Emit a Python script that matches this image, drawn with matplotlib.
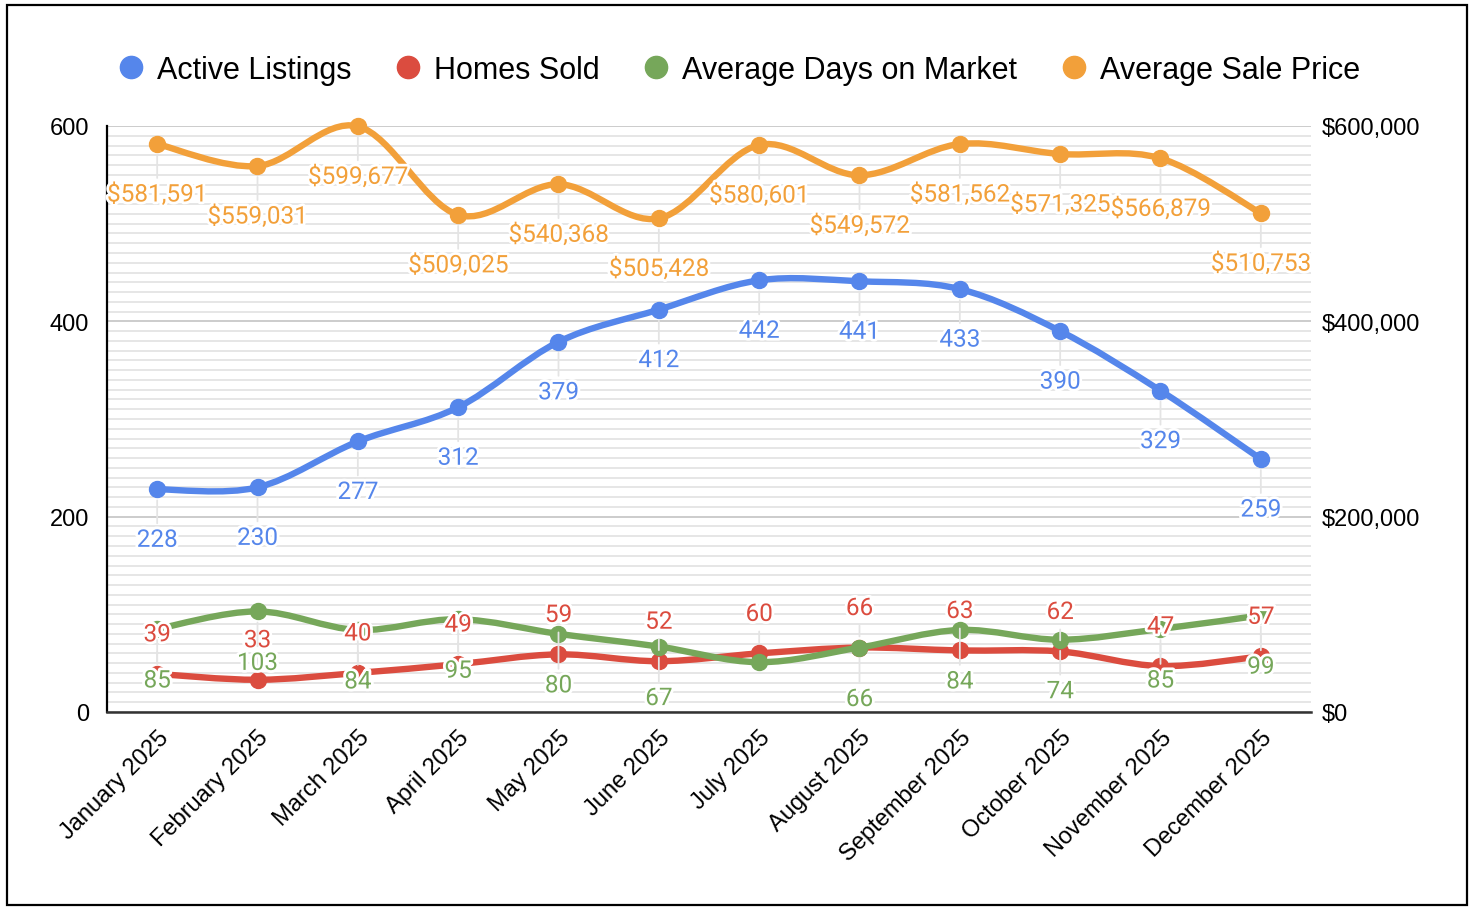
import numpy as np
import matplotlib
matplotlib.use("Agg")
import matplotlib.pyplot as plt
from matplotlib.path import Path
from matplotlib.patches import PathPatch, Rectangle
from matplotlib.ticker import MultipleLocator, FuncFormatter
from matplotlib.lines import Line2D
import matplotlib.patheffects as pe

months = ["January 2025", "February 2025", "March 2025", "April 2025", "May 2025",
          "June 2025", "July 2025", "August 2025", "September 2025", "October 2025",
          "November 2025", "December 2025"]
active_listings = [228, 230, 277, 312, 379, 412, 442, 441, 433, 390, 329, 259]
homes_sold = [39, 33, 40, 49, 59, 52, 60, 66, 63, 62, 47, 57]
days_on_market = [85, 103, 84, 95, 80, 67, 51, 66, 84, 74, 85, 99]
sale_price = [581591, 559031, 599677, 509025, 540368, 505428, 580601, 549572,
              581562, 571325, 566879, 510753]

BLUE = "#5586eb"
RED = "#db4c3f"
GREEN = "#76a75a"
ORANGE = "#f2a03a"

AXFONT = "Liberation Sans"
LBLFONT = "Roboto"


def smooth_path(xs, ys):
    # catmull-rom -> cubic bezier segments
    pts = np.column_stack([xs, ys]).astype(float)
    n = len(pts)
    verts = [pts[0]]
    codes = [Path.MOVETO]
    for i in range(n - 1):
        p0 = pts[max(i - 1, 0)]
        p1 = pts[i]
        p2 = pts[i + 1]
        p3 = pts[min(i + 2, n - 1)]
        c1 = p1 + (p2 - p0) / 6.0
        c2 = p2 - (p3 - p1) / 6.0
        verts += [c1, c2, p2]
        codes += [Path.CURVE4] * 3
    return Path(verts, codes)


def draw_series(ax, vals, color, dy_px, z, skip=()):
    x = np.arange(len(vals))
    ax.add_patch(PathPatch(smooth_path(x, vals), fill=False, edgecolor=color,
                           lw=4.6, capstyle="round", joinstyle="round", zorder=z,
                           clip_on=False))
    ax.plot(x, vals, "o", color=color, ms=11.5, zorder=z + 0.1, clip_on=False)
    for i, v in enumerate(vals):
        if i in skip:
            continue
        if v >= 1000:
            txt = "${:,}".format(v)
        else:
            txt = str(v)
        ax.annotate(txt, (i, v), xytext=(0, dy_px * 0.72), textcoords="offset points",
                    ha="center", va="center", fontsize=17.5, family=LBLFONT, color=color,
                    zorder=20,
                    path_effects=[pe.withStroke(linewidth=4, foreground="white")],
                    arrowprops=dict(arrowstyle="-", color="#e4e4e4", lw=1.3,
                                    shrinkA=2, shrinkB=8))


fig = plt.figure(figsize=(14.74, 9.12), dpi=100)
ax = fig.add_axes([107 / 1474, 1 - 713 / 912, (1311 - 107) / 1474, (713 - 127) / 912])
ax2 = ax.twinx()

ax.set_xlim(-0.5, len(months) - 0.5)
ax.set_ylim(0, 600)
ax2.set_ylim(0, 600000)

ax.yaxis.set_major_locator(MultipleLocator(200))
ax.yaxis.set_minor_locator(MultipleLocator(10))
ax2.yaxis.set_major_locator(MultipleLocator(200000))
ax2.yaxis.set_major_formatter(FuncFormatter(lambda v, p: "${:,.0f}".format(v)))

ax.grid(which="major", axis="y", color="#cccccc", lw=1.4, zorder=0)
ax.grid(which="minor", axis="y", color="#e6e6e6", lw=1.4, zorder=0)
ax.set_axisbelow(True)

for a in (ax, ax2):
    for s in ("top", "right", "left", "bottom"):
        a.spines[s].set_visible(False)
ax.spines["left"].set_visible(True)
ax.spines["left"].set_color("black")
ax.spines["left"].set_linewidth(1.6)
ax.spines["bottom"].set_visible(True)
ax.spines["bottom"].set_color("#333333")
ax.spines["bottom"].set_linewidth(1.8)

ax.tick_params(axis="y", which="both", length=0, pad=13, labelsize=17)
ax2.tick_params(axis="y", which="both", length=0, pad=8, labelsize=17)
ax.tick_params(axis="x", length=0, pad=10, labelsize=17)
for t in ax.get_yticklabels() + ax2.get_yticklabels():
    t.set_family(AXFONT)

ax.set_xticks(np.arange(len(months)))
ax.set_xticklabels(months, rotation=45, ha="right", va="top", rotation_mode="anchor",
                   family=AXFONT, fontsize=17)

draw_series(ax, active_listings, BLUE, -51, 3)
draw_series(ax, homes_sold, RED, 39, 4)
draw_series(ax, days_on_market, GREEN, -52, 5, skip=(6,))
draw_series(ax2, sale_price, ORANGE, -51, 6)

handles = [Line2D([], [], ls="none", marker="o", ms=16, color=c)
           for c in (BLUE, RED, GREEN, ORANGE)]
names = ["Active Listings", "Homes Sold", "Average Days on Market", "Average Sale Price"]
fig.legend(handles, names, loc="center", bbox_to_anchor=(738 / 1474, 1 - 71 / 912),
           ncol=4, frameon=False, prop={"family": AXFONT, "size": 22},
           handletextpad=0.35, columnspacing=1.35, handlelength=1.0)

fig.patches.append(Rectangle((7 / 1474, 6 / 912), 1460 / 1474, 900 / 912,
                             transform=fig.transFigure, fill=False,
                             edgecolor="black", lw=1.6))

fig.savefig("out.png", dpi=100)
